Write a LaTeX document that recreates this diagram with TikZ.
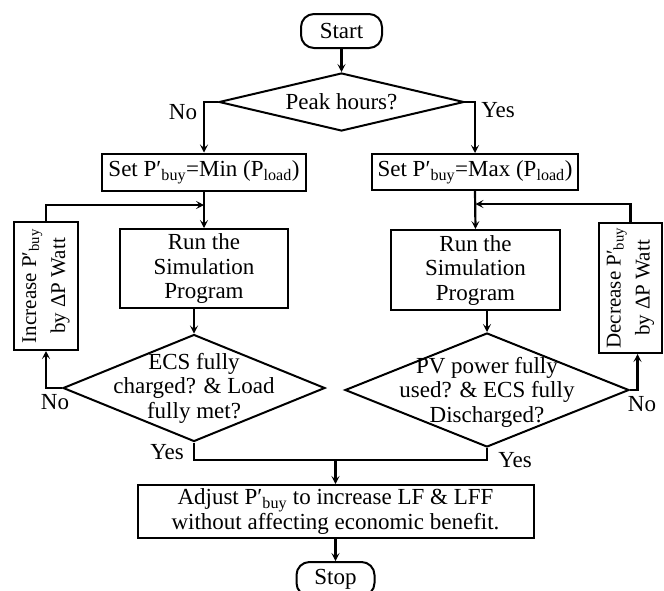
\documentclass[tikz,border=0pt]{standalone}
\usepackage{fontspec}
\setmainfont{Liberation Serif}
\usetikzlibrary{shapes.geometric,arrows.meta}
\begin{document}
\begin{tikzpicture}[x=1pt,y=-1pt,
  every node/.style={font=\fontsize{23}{24.5}\selectfont},
  box/.style={draw, line width=2pt, inner sep=0pt, align=center},
  dia/.style={draw, diamond, line width=2pt, inner sep=0pt},
  rotbox/.style={box, rotate=90, font=\fontsize{21}{29}\selectfont},
  conn/.style={line width=2.2pt},
  arr/.style={conn, -{Stealth[length=8pt,width=8pt,inset=3.5pt]}},
  lbl/.style={inner sep=0pt}]
\useasboundingbox (0,0) rectangle (664,590);
\clip (0,0) rectangle (664,590);
\fill[white] (0,0) rectangle (664,590);

\node[box, rounded corners=13pt, minimum width=81pt, minimum height=34pt] (start) at (341.5,31) {Start};
\node[dia, minimum width=245pt, minimum height=58pt] (peak) at (341.5,102) {};
\node[lbl] (peaktxt) at (peak) {Peak hours?};
\node[box, minimum width=204pt, minimum height=37pt] (setmin) at (204,172) {Set P′\textsubscript{buy}=Min (P\textsubscript{load})};
\node[box, minimum width=206pt, minimum height=36pt] (setmax) at (475,172) {Set P′\textsubscript{buy}=Max (P\textsubscript{load})};
\node[box, minimum width=168pt, minimum height=79pt] (run1) at (204,268.5) {Run the\\Simulation\\Program};
\node[box, minimum width=169pt, minimum height=80pt] (run2) at (475.5,270) {Run the\\Simulation\\Program};
\node[rotbox, minimum width=128pt, minimum height=64pt] (inc) at (46,286) {Increase P′\textsubscript{buy}\\by ΔP Watt};
\node[rotbox, minimum width=130pt, minimum height=63pt] (dec) at (630.5,288) {Decrease P′\textsubscript{buy}\\by ΔP Watt};
\node[dia, minimum width=262pt, minimum height=107pt] (ecs) at (194,388) {};
\node[lbl, align=center] (ecstxt) at (ecs) {ECS fully\\charged? \& Load\\fully met?};
\node[dia, minimum width=284pt, minimum height=114pt] (pv) at (487,390) {};
\node[lbl, align=center] (pvtxt) at (487,392) {PV power fully\\used? \& ECS fully\\Discharged?};
\node[box, minimum width=396pt, minimum height=53pt] (adjust) at (335.5,511.5) {Adjust P′\textsubscript{buy} to increase LF \& LFF\\without affecting economic benefit.};
\node[box, rounded corners=13pt, minimum width=78pt, minimum height=34pt] (stop) at (335.5,579) {Stop};

\coordinate (j) at (335.5,460);
\draw[arr] (start.south) -- (peak.north);
\draw[arr] (peak.west) -| (setmin.north);
\draw[arr] (peak.east) -| (setmax.north);
\draw[arr] (setmin.south) -- (run1.north);
\draw[arr] (setmax.south) -- (run2.north);
\draw[arr] (inc.east) |- (run1.north |- 0,205);
\draw[arr] (dec.east) |- (run2.north |- 0,204);
\draw[arr] (ecs.north |- run1.south) -- (ecs.north);
\draw[arr] (pv.north |- run2.south) -- (pv.north);
\draw[arr] (ecs.west) -| (inc.west);
\draw[arr] (pv.east) -| ([xshift=7pt]dec.west);
\draw[conn] (ecs.south) -- (ecs.south |- j) -- (pv.south |- j) -- (pv.south);
\draw[arr] (j) -- (adjust.north);
\draw[arr] (adjust.south) -- (stop.north);

\node[lbl] (no1) at (183,112) {No};
\node[lbl] (yes1) at (498,110) {Yes};
\node[lbl] (no2) at (55,402) {No};
\node[lbl] (no3) at (642,404) {No};
\node[lbl] (yes2) at (167,452) {Yes};
\node[lbl] (yes3) at (515,460) {Yes};
\end{tikzpicture}
\end{document}
